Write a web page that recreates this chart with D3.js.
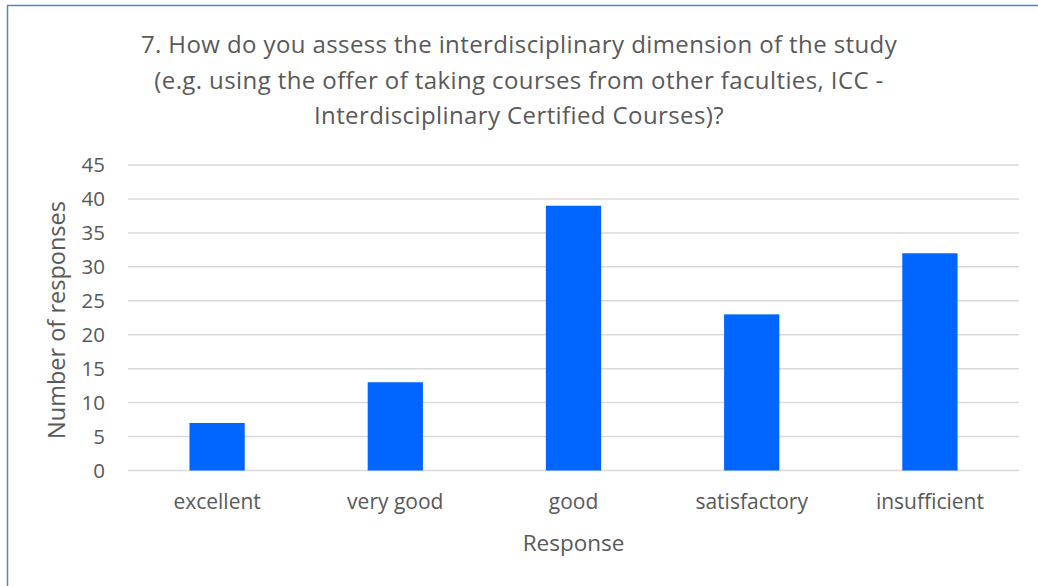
<!DOCTYPE html>
<html><head><meta charset="utf-8">
<script src="https://cdn.jsdelivr.net/npm/d3@7"></script>
<style>body{margin:0;background:#fff}svg{display:block}text{font-family:"Open Sans",sans-serif;fill:#595959}</style>
</head><body><svg id="c" width="1038" height="586"></svg>
<script>
const categories = ["excellent","very good","good","satisfactory","insufficient"];
const values = [7,13,39,23,32];
const yTicks = [0,5,10,15,20,25,30,35,40,45];
const titleLines = ["7. How do you assess the interdisciplinary dimension of the study","(e.g. using the offer of taking courses from other faculties, ICC -","Interdisciplinary Certified Courses)?"];
const xTitle = "Response", yTitle = "Number of responses";

const svg = d3.select("#c");
svg.append("line").attr("x1",7.5).attr("x2",7.5).attr("y1",5).attr("y2",586).attr("stroke","#5186c2").attr("stroke-width",1.5);
svg.append("line").attr("x1",7).attr("x2",1038).attr("y1",5.5).attr("y2",5.5).attr("stroke","#5186c2").attr("stroke-width",1.5);

const L=128,R=1019,T=165,B=470.5;
const x = d3.scaleBand().domain(categories).range([L,R]).paddingInner(0.69).paddingOuter(0.345);
const y = d3.scaleLinear().domain([0,45]).range([B,T]);

svg.append("g").selectAll("line").data(yTicks).join("line")
 .attr("x1",L).attr("x2",R).attr("y1",d=>y(d)).attr("y2",d=>y(d))
 .attr("stroke","#d9d9d9").attr("stroke-width",1.5);
svg.append("g").selectAll("text").data(yTicks).join("text")
 .attr("x",105).attr("y",d=>y(d)).attr("dy","0.36em").attr("text-anchor","end")
 .attr("font-size",20.5).text(d=>d);

svg.append("g").selectAll("rect").data(values).join("rect")
 .attr("x",(d,i)=>x(categories[i])).attr("width",x.bandwidth())
 .attr("y",d=>y(d)).attr("height",d=>B-y(d)).attr("fill","#0066ff");

svg.append("g").selectAll("text").data(categories).join("text")
 .attr("x",d=>x(d)+x.bandwidth()/2).attr("y",509).attr("text-anchor","middle")
 .attr("font-size",21).text(d=>d);

svg.append("text").attr("x",(L+R)/2).attr("y",551).attr("text-anchor","middle").attr("font-size",22.5).text(xTitle);
svg.append("text").attr("transform","translate(65,320) rotate(-90)").attr("text-anchor","middle").attr("font-size",23.5).text(yTitle);

svg.append("g").selectAll("text").data(titleLines).join("text")
 .attr("x",519).attr("y",(d,i)=>53+i*35.5).attr("text-anchor","middle").attr("font-size",24).attr("letter-spacing",0.4).text(d=>d);
</script></body></html>
